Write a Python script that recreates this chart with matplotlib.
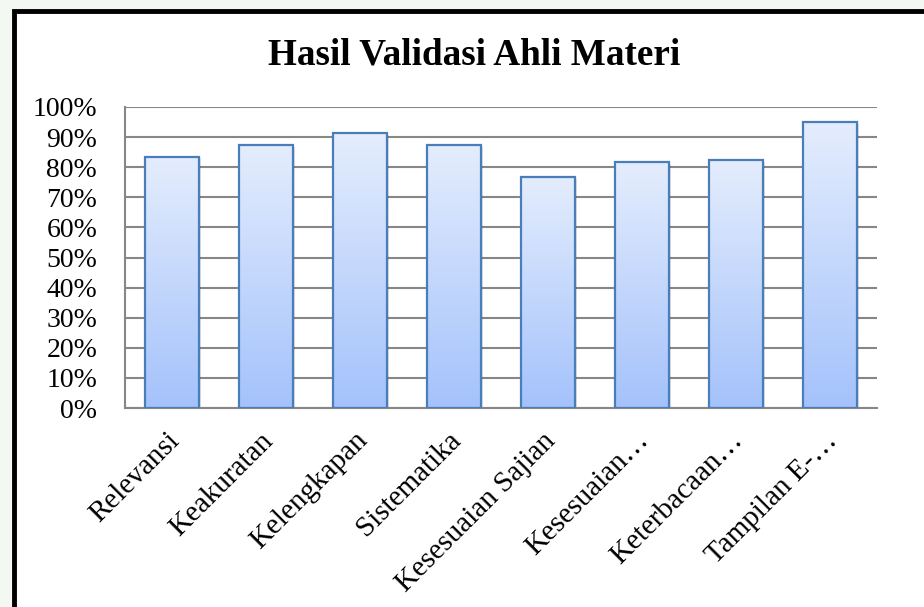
import numpy as np
import matplotlib
matplotlib.use('Agg')
import matplotlib.pyplot as plt
from matplotlib.colors import LinearSegmentedColormap
from matplotlib.patches import Rectangle
from matplotlib.ticker import FuncFormatter, MultipleLocator
from matplotlib.transforms import ScaledTranslation

categories = ["Relevansi", "Keakuratan", "Kelengkapan", "Sistematika",
              "Kesesuaian Sajian", "Kesesuaian…", "Keterbacaan…", "Tampilan E-…"]
values = [83.5, 87.4, 91.3, 87.4, 76.8, 81.6, 82.4, 94.9]

plt.rcParams['font.family'] = ['Liberation Serif', 'DejaVu Serif']

fig = plt.figure(figsize=(9.24, 6.07), dpi=100)
fig.patch.set_facecolor('#f3f8f3')

# white chart area with black frame (only top/left edges fall inside the picture)
frame = Rectangle((14 / 924, -0.1), 1.2, 1 - 11 / 607 + 0.1, transform=fig.transFigure,
                  facecolor='white', edgecolor='black', lw=3.5, zorder=-1)
fig.patches.append(frame)

ax = fig.add_axes([125 / 924, 1 - 408 / 607, (877 - 125) / 924, (408 - 107) / 607])
ax.set_facecolor('none')

x = np.arange(len(categories))
bars = ax.bar(x, values, width=0.585, facecolor='none', edgecolor='#4a7ebb', lw=1.6, zorder=3)

cmap = LinearSegmentedColormap.from_list('grad', ['#a4c2fb', '#e4edfd'])
grad = np.linspace(0, 1, 256).reshape(-1, 1)
for b in bars:
    x0, w, h = b.get_x(), b.get_width(), b.get_height()
    # soft shadow
    ax.add_patch(Rectangle((x0 + 0.02, -0.6), w, h, facecolor='#000000', alpha=0.12,
                           lw=0, zorder=2))
    im = ax.imshow(grad, cmap=cmap, origin='lower', aspect='auto',
                   extent=[x0, x0 + w, 0, h], zorder=2.5)
    im.set_clip_path(b)

ax.set_xlim(-0.5, len(categories) - 0.5)
ax.set_ylim(0, 100)
ax.yaxis.set_major_locator(MultipleLocator(10))
ax.yaxis.set_major_formatter(FuncFormatter(lambda v, p: f"{v:.0f}%"))
ax.grid(axis='y', color='#878787', lw=1.5, zorder=1)
ax.set_axisbelow(True)
for s in ['top', 'right']:
    ax.spines[s].set_visible(False)
for s in ['left', 'bottom']:
    ax.spines[s].set_color('#878787')
    ax.spines[s].set_linewidth(1.5)
ax.tick_params(axis='y', length=0, pad=20, labelsize=20)
ax.tick_params(axis='x', length=0, pad=14)
ax.set_xticks(x)
ax.set_xticklabels(categories, rotation=45, ha='right', rotation_mode='anchor', fontsize=21)
shift = ScaledTranslation(-0.06, 0, fig.dpi_scale_trans)
for lab in ax.get_xticklabels():
    lab.set_transform(lab.get_transform() + shift)

fig.text(0.513, 0.909, "Hasil Validasi Ahli Materi", ha='center', va='center',
         fontsize=26.7, fontweight='bold')

fig.savefig('out.png', dpi=100)
